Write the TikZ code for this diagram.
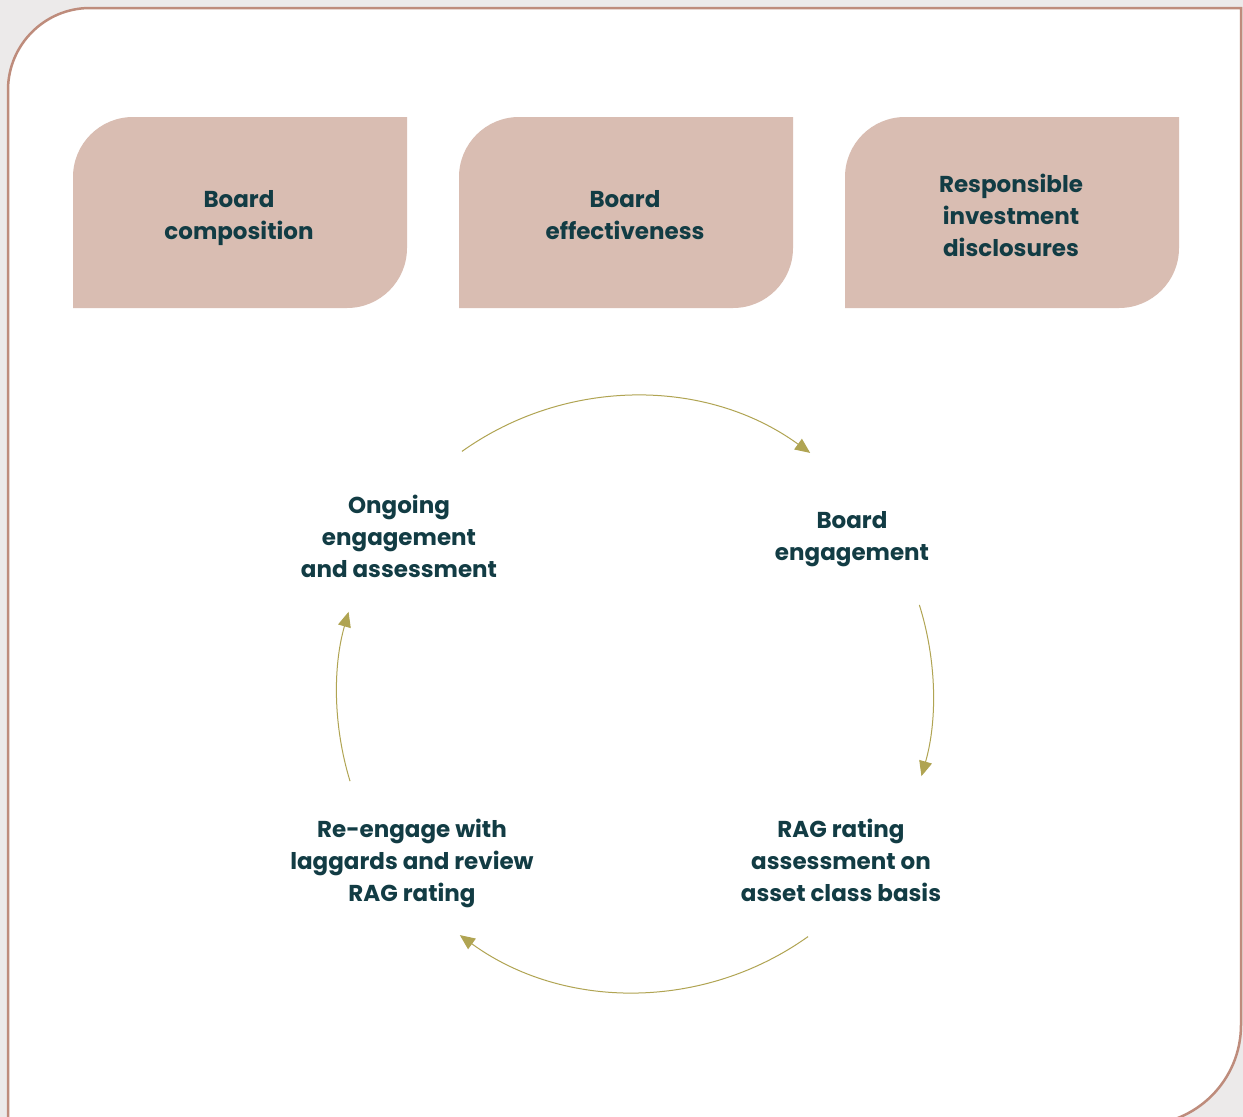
\documentclass[tikz,border=0pt]{standalone}
\usepackage{fontspec}
\setmainfont{Poppins}
\usepackage{xcolor}
\usepackage{tikz}
\usetikzlibrary{arrows.meta}
\usetikzlibrary{calc}

\definecolor{tilepink}{HTML}{D9BDB2}
\definecolor{inkteal}{HTML}{123C44}
\definecolor{olive}{HTML}{B0A452}
\definecolor{rim}{HTML}{BE8C7C}
\definecolor{marble}{HTML}{ECEAEA}

\tikzset{
  tile/.style={fill=tilepink},
  lbl/.style={align=center, text=inkteal, font=\fontsize{23}{32}\selectfont\bfseries},
  cyc/.style={draw=olive, line width=1pt, -{Triangle[length=15pt,width=13pt]}}
}

\begin{document}
\begin{tikzpicture}[x=1pt, y=-1pt]
 \useasboundingbox (0,0) rectangle (1243,1117);
 \fill[marble] (0,0) rectangle (1243,1117);

 % outer frame
 \begin{scope}
 \clip (0,0) rectangle (1243,1117);
 \filldraw[fill=white, draw=rim, line width=2.5pt] (8,1125) -- (8,90) arc[start angle=180, end angle=270, radius=82]
   -- (1241,8) -- (1241,1025) arc[start angle=0, end angle=90, radius=100] -- cycle;
 \end{scope}

 % top tiles
 \fill[tile] (73,308) -- (73,177) arc[start angle=180, end angle=270, radius=60] -- (407,117) -- (407,248) arc[start angle=0, end angle=90, radius=60] -- cycle;
 \fill[tile] (459,308) -- (459,177) arc[start angle=180, end angle=270, radius=60] -- (793,117) -- (793,248) arc[start angle=0, end angle=90, radius=60] -- cycle;
 \fill[tile] (845,308) -- (845,177) arc[start angle=180, end angle=270, radius=60] -- (1179,117) -- (1179,248) arc[start angle=0, end angle=90, radius=60] -- cycle;

 \node[lbl] (compo) at (239,218) {Board\\composition};
 \node[lbl] (effect) at (625,215) {Board\\effectiveness};
 \node[lbl] (disclo) at (1011,215) {Responsible\\investment\\disclosures};

 % cycle
 \coordinate (c) at (635,694);
 \node[lbl] (ongoing) at (399,536) {Ongoing\\engagement\\and assessment};
 \node[lbl] (engage) at (852,539) {Board\\engagement};
 \node[lbl] (rag) at (841,860) {RAG rating\\assessment on\\asset class basis};
 \node[lbl] (reengage) at (412,863) {Re-engage with\\laggards and review\\RAG rating};

 \coordinate (t1) at ($(c)+(-125.5:298)$);
 \coordinate (r1) at ($(c)+(-17.4:298)$);
 \coordinate (b1) at ($(c)+(54.5:298)$);
 \coordinate (l1) at ($(c)+(163:298)$);

 \draw[cyc] (t1) arc[start angle=-125.5, end angle=-54, radius=298];
 \draw[cyc] (r1) arc[start angle=-17.4, end angle=16, radius=298];
 \draw[cyc] (b1) arc[start angle=54.5, end angle=126, radius=298];
 \draw[cyc] (l1) arc[start angle=163, end angle=196, radius=298];
\end{tikzpicture}
\end{document}
